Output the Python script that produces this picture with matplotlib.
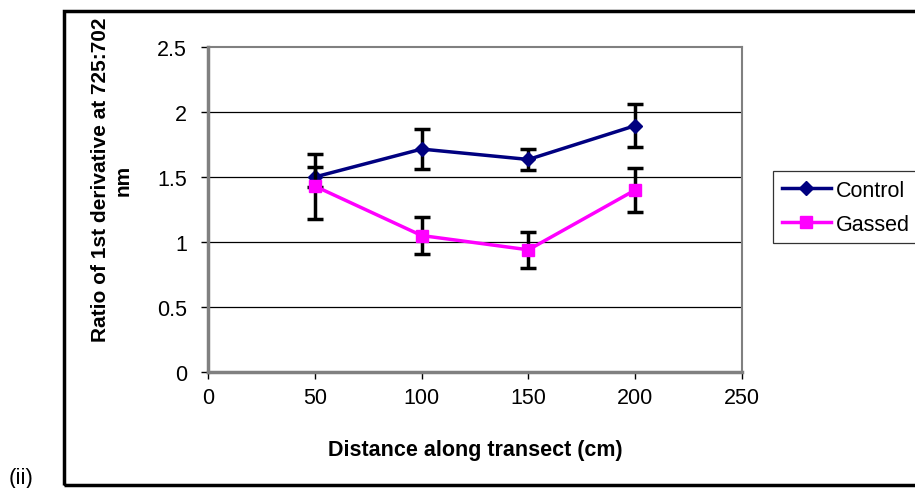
import numpy as np
import matplotlib.pyplot as plt
from matplotlib.patches import Rectangle

plt.rcParams['font.family'] = ['Liberation Sans', 'DejaVu Sans']

# data
distance = [50, 100, 150, 200]
control = [1.50, 1.715, 1.635, 1.895]
control_err = [0.08, 0.155, 0.08, 0.165]
gassed = [1.43, 1.05, 0.94, 1.40]
gassed_err = [0.25, 0.14, 0.14, 0.17]

fig = plt.figure(figsize=(9.15, 4.89), dpi=100)
ax = fig.add_axes([0.2273, 0.2372, 0.5836, 0.6646])

# outer chart frame (right side runs off the image)
fig.patches.append(Rectangle((0.0695, 0.006), 1.0, 0.97, transform=fig.transFigure,
                             fill=False, edgecolor='black', linewidth=2.5))
fig.text(0.009, 0.0, '(ii)', fontsize=16, ha='left', va='bottom')

for y in [0.5, 1, 1.5, 2]:
    ax.axhline(y, color='black', linewidth=0.9, zorder=1)

c1 = ax.errorbar(distance, control, yerr=control_err, color='#000080', linewidth=2.5,
                 marker='D', markersize=7, ecolor='black', elinewidth=2.5,
                 capsize=5.5, capthick=2.5, zorder=3)
c2 = ax.errorbar(distance, gassed, yerr=gassed_err, color='#FF00FF', linewidth=2.5,
                 marker='s', markersize=8.5, ecolor='black', elinewidth=2.5,
                 capsize=5.5, capthick=2.5, zorder=4)

ax.set_xlim(0, 250)
ax.set_ylim(0, 2.5)
ax.set_xticks(np.arange(0, 251, 50))
ax.set_yticks([0, 0.5, 1, 1.5, 2, 2.5])
ax.set_yticklabels(['0', '0.5', '1', '1.5', '2', '2.5'])
ax.tick_params(direction='out', length=5, width=1, color='black', labelsize=15.5)
ax.tick_params(axis='x', pad=6)
ax.tick_params(axis='y', pad=10)
for s in ax.spines.values():
    s.set_color('#808080')
    s.set_linewidth(1.5)
ax.spines['left'].set_linewidth(2.5)
ax.spines['bottom'].set_linewidth(2.5)

ax.set_xlabel('Distance along transect (cm)', fontsize=15.5, fontweight='bold')
ax.xaxis.set_label_coords(0.5, -0.237)
ax.xaxis.label.set_va('center')
ax.set_ylabel('Ratio of 1st derivative at 725:702\nnm', fontsize=15, fontweight='bold',
              linespacing=1.2)
ax.yaxis.set_label_coords(-0.18, 0.594)
ax.yaxis.label.set_va('center')

leg = ax.legend(handles=[c1[0], c2[0]], labels=['Control', 'Gassed'],
                loc='upper left', bbox_to_anchor=(1.058, 0.618), borderaxespad=0,
                fontsize=15.5, frameon=True, fancybox=False, edgecolor='black',
                borderpad=0.4, handlelength=2.3, handletextpad=0.2, labelspacing=0.6)
leg.get_frame().set_linewidth(0.9)

fig.savefig('out.png', dpi=100)
